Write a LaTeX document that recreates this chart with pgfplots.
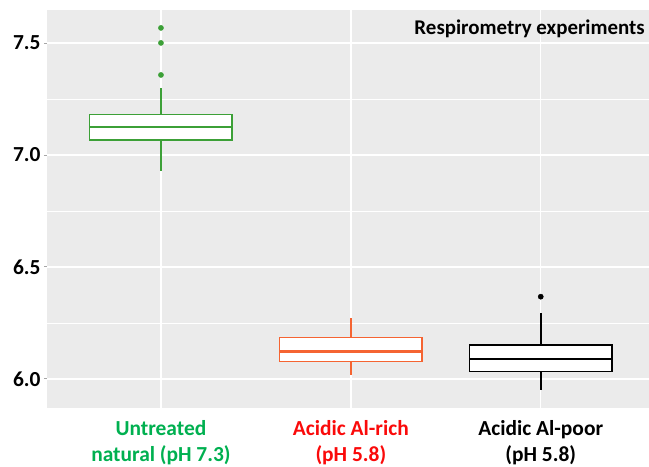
\documentclass[border=0pt]{standalone}
\usepackage{pgfplots}
\pgfplotsset{compat=1.18}
\usepackage{fontspec}
\setmainfont{Carlito}
\definecolor{panel}{RGB}{235,235,235}
\definecolor{boxgreen}{RGB}{60,160,55}
\definecolor{boxorange}{RGB}{245,100,50}
\definecolor{labgreen}{RGB}{0,176,80}
\definecolor{labred}{RGB}{250,10,10}
\begin{document}
\begin{tikzpicture}
\begin{axis}[
  scale only axis, width=602bp, height=398bp,
  xmin=0.4, xmax=3.57, ymin=5.87, ymax=7.647,
  axis background/.style={fill=panel},
  axis line style={draw=none},
  xtick={1,2,3},
  xticklabels={{\color{labgreen}Untreated\\\color{labgreen}natural (pH 7.3)},
               {\color{labred}Acidic Al-rich\\\color{labred}(pH 5.8)},
               {Acidic Al-poor\\(pH 5.8)}},
  ytick={6,6.5,7,7.5}, minor ytick={6.25,6.75,7.25},
  yticklabel style={/pgf/number format/fixed, /pgf/number format/fixed zerofill, /pgf/number format/precision=1},
  /pgf/number format/assume math mode=true,
  ticklabel style={font=\fontsize{21.5}{26}\selectfont\bfseries},
  grid=both,
  major grid style={white, line width=1.3bp},
  minor grid style={white, line width=0.7bp},
  tick align=outside, major tick length=3bp, minor tick length=0bp,
  ytick style={gray!70, line width=0.8bp},
  xtick style={draw=none},
  xticklabel style={align=center, yshift=-6bp},
  clip=false,
]
% Untreated natural: whiskers, box, median, outliers
\addplot[boxgreen, line width=1.5bp] coordinates {(1,6.93)(1,7.067)};
\addplot[boxgreen, line width=1.5bp] coordinates {(1,7.18)(1,7.30)};
\addplot[boxgreen, line width=1.5bp, fill=white] coordinates {(0.625,7.067)(1.375,7.067)(1.375,7.18)(0.625,7.18)} -- cycle;
\addplot[boxgreen, line width=2.6bp] coordinates {(0.625,7.125)(1.375,7.125)};
\addplot[only marks, mark=*, mark size=2.6bp, boxgreen, fill=boxgreen] coordinates {(1,7.567)(1,7.5)(1,7.357)};
% Acidic Al-rich
\addplot[boxorange, line width=1.5bp] coordinates {(2,6.018)(2,6.077)};
\addplot[boxorange, line width=1.5bp] coordinates {(2,6.184)(2,6.274)};
\addplot[boxorange, line width=1.5bp, fill=white] coordinates {(1.625,6.077)(2.375,6.077)(2.375,6.184)(1.625,6.184)} -- cycle;
\addplot[boxorange, line width=2.6bp] coordinates {(1.625,6.122)(2.375,6.122)};
% Acidic Al-poor
\addplot[black, line width=1.5bp] coordinates {(3,5.951)(3,6.033)};
\addplot[black, line width=1.5bp] coordinates {(3,6.152)(3,6.296)};
\addplot[black, line width=1.5bp, fill=white] coordinates {(2.625,6.033)(3.375,6.033)(3.375,6.152)(2.625,6.152)} -- cycle;
\addplot[black, line width=2.6bp] coordinates {(2.625,6.088)(3.375,6.088)};
\addplot[only marks, mark=*, mark size=2.6bp, black, fill=black] coordinates {(3,6.367)};
\node[anchor=base east, inner sep=0pt, font=\fontsize{21}{24}\selectfont\bfseries]
  at ([xshift=-4bp,yshift=-25bp]rel axis cs:1,1) {Respirometry experiments};
\path (rel axis cs:0,0) ++(-47bp,-59bp) coordinate (bbsw);
\path (rel axis cs:1,1) ++(0bp,10bp) coordinate (bbne);
\end{axis}
\pgfresetboundingbox
\path (bbsw) rectangle (bbne);
\end{tikzpicture}
\end{document}
